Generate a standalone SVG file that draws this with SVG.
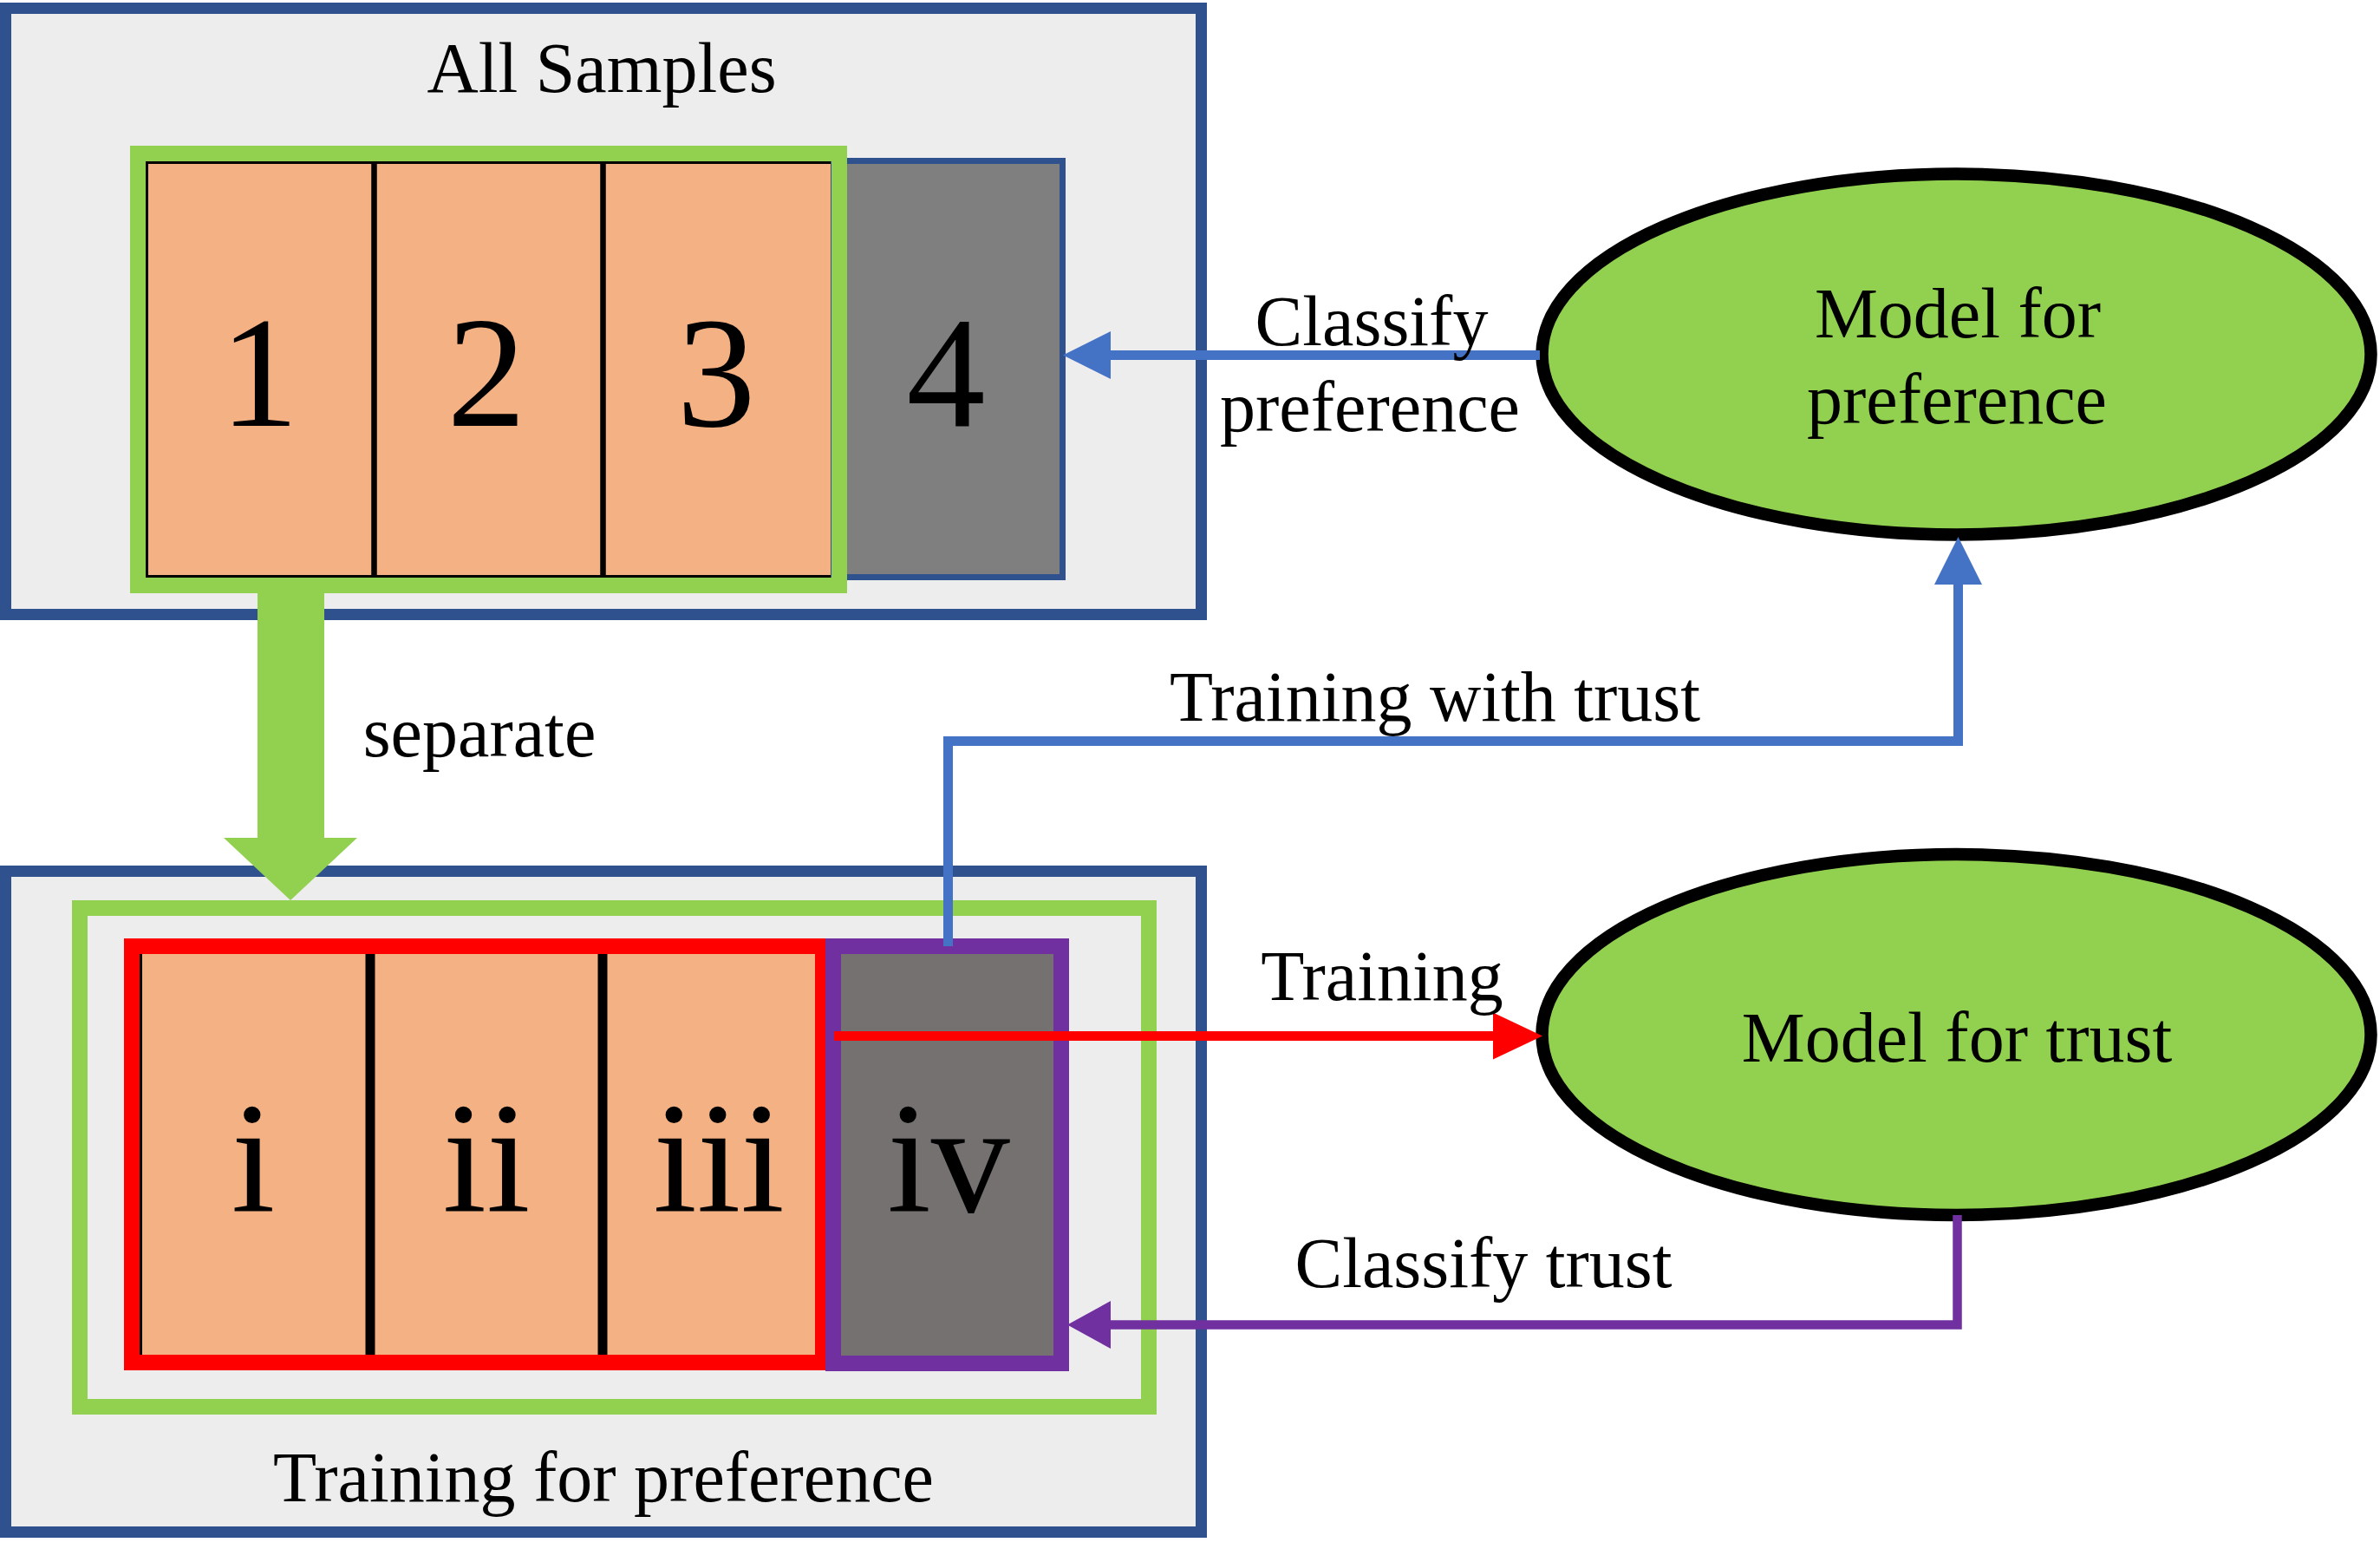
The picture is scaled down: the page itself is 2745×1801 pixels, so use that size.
<svg xmlns="http://www.w3.org/2000/svg" width="2745" height="1801" viewBox="0 0 2745 1801">
<defs>
<style>
.box{fill:#ededed;stroke:#2f528f;stroke-width:13}
.grn{fill:none;stroke:#92d050;stroke-width:18}
.cell{fill:#f4b183}
.blk{stroke:#000}
.ell{fill:#92d050;stroke:#000;stroke-width:14.5}
.lbl{font-family:"Liberation Serif","Times New Roman",serif;font-size:82px;fill:#000;text-anchor:middle}
.big{font-family:"Liberation Serif","Times New Roman",serif;font-size:182px;fill:#000;text-anchor:middle}
.cb{fill:none;stroke:#4472c4;stroke-width:11}
.cr{fill:none;stroke:#ff0000;stroke-width:11}
.cp{fill:none;stroke:#7030a0;stroke-width:10.5}
</style>
<marker id="mb" markerUnits="userSpaceOnUse" markerWidth="56" markerHeight="56" refX="0" refY="27.5" orient="auto" overflow="visible"><path d="M0,0 L55,27.5 L0,55 Z" fill="#4472c4"/></marker>
<marker id="mr" markerUnits="userSpaceOnUse" markerWidth="58" markerHeight="56" refX="0" refY="27" orient="auto" overflow="visible"><path d="M0,0 L57,27 L0,54 Z" fill="#ff0000"/></marker>
<marker id="mp" markerUnits="userSpaceOnUse" markerWidth="56" markerHeight="56" refX="0" refY="27.5" orient="auto" overflow="visible"><path d="M0,0 L50,27.5 L0,55 Z" fill="#7030a0"/></marker>
</defs>
<rect width="2745" height="1801" fill="#ffffff"/>

<g id="all-samples">
<rect class="box" x="6.5" y="9.5" width="1379" height="699"/>
<text class="lbl" x="694" y="106">All Samples</text>
</g>

<g id="sample-4">
<rect x="958" y="185.5" width="267.5" height="480" fill="#7f7f7f" stroke="#2f528f" stroke-width="7"/>
<text class="big" x="1091" y="491">4</text>
</g>

<g id="samples-1-3">
<rect class="cell" x="168" y="186" width="790" height="480"/>
<g class="blk">
<line x1="168" y1="187.5" x2="958" y2="187.5" stroke-width="3"/>
<line x1="168" y1="664.5" x2="958" y2="664.5" stroke-width="3"/>
<line x1="169.5" y1="186" x2="169.5" y2="666" stroke-width="3"/>
<line x1="431.5" y1="186" x2="431.5" y2="666" stroke-width="6.5"/>
<line x1="695.5" y1="186" x2="695.5" y2="666" stroke-width="6.5"/>
</g>
<text class="big" x="299" y="491">1</text>
<text class="big" x="561" y="491">2</text>
<text class="big" x="826" y="491">3</text>
<rect class="grn" x="159" y="177" width="809" height="498"/>
</g>

<g id="training-for-preference">
<rect class="box" x="6.5" y="1004.5" width="1379" height="762"/>
<rect class="grn" x="92" y="1047" width="1233" height="575"/>
<text class="lbl" x="696" y="1731">Training for preference</text>
</g>

<g id="set-i-iii">
<rect class="cell" x="161" y="1098" width="797" height="467"/>
<g class="blk">
<line x1="162.5" y1="1100" x2="162.5" y2="1563" stroke-width="3"/>
<line x1="427" y1="1100" x2="427" y2="1563" stroke-width="11"/>
<line x1="695" y1="1100" x2="695" y2="1563" stroke-width="11"/>
</g>
<text class="big" x="292" y="1397">i</text>
<text class="big" x="561" y="1397">ii</text>
<text class="big" x="829" y="1397">iii</text>
<rect x="152" y="1091" width="797" height="480" fill="none" stroke="#ff0000" stroke-width="18"/>
</g>

<g id="set-iv">
<rect x="961" y="1091" width="263" height="481" fill="#767171" stroke="#7030a0" stroke-width="18"/>
<text class="big" x="1094" y="1397">iv</text>
</g>

<g id="separate-arrow">
<polygon points="297,684 374,684 374,966 412,966 335,1038 258,966 297,966" fill="#92d050"/>
<text class="lbl" x="553" y="872">separate</text>
</g>

<g id="model-preference">
<ellipse class="ell" cx="2256.5" cy="408.5" rx="478" ry="208"/>
<text class="lbl" x="2258" y="389">Model for</text>
<text class="lbl" x="2257" y="488">preference</text>
</g>

<g id="model-trust">
<ellipse class="ell" cx="2256.5" cy="1193" rx="478" ry="208"/>
<text class="lbl" x="2257" y="1224">Model for trust</text>
</g>

<g id="connectors">
<path class="cb" d="M1776,409.5 L1281,409.5" marker-end="url(#mb)"/>
<text class="lbl" x="1582" y="398">Classify</text>
<text class="lbl" x="1580" y="497">preference</text>
<path class="cb" d="M1093.5,1091 L1093.5,854.5 L2258.5,854.5 L2258.5,674" marker-end="url(#mb)"/>
<text class="lbl" x="1655" y="831">Training with trust</text>
<path class="cr" d="M962,1194.5 L1722,1194.5" marker-end="url(#mr)"/>
<text class="lbl" x="1594" y="1153">Training</text>
<path class="cp" d="M2257.5,1401 L2257.5,1527.5 L1281,1527.5" marker-end="url(#mp)"/>
<text class="lbl" x="1711" y="1484">Classify trust</text>
</g>
</svg>
